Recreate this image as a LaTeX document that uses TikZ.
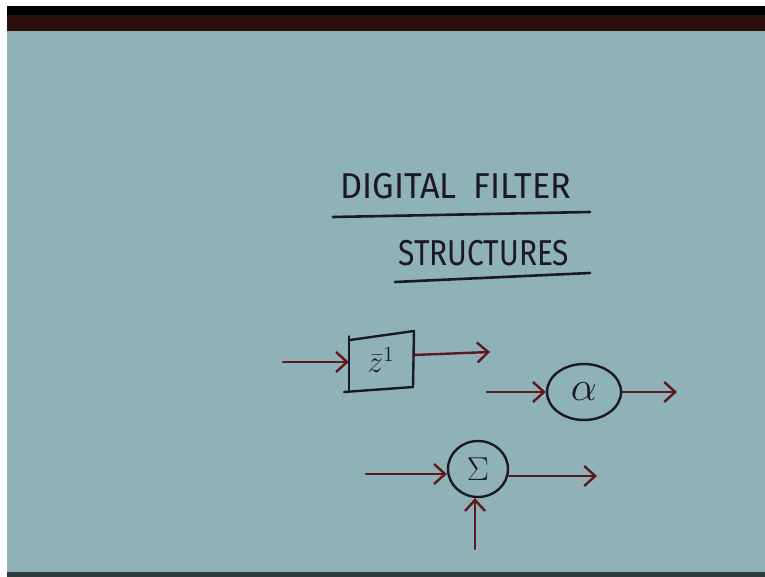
\documentclass[tikz,border=0pt]{standalone}
\usepackage{fontspec}
\setmainfont{Fira Sans}
\usetikzlibrary{arrows.meta,shapes.geometric}
\definecolor{board}{HTML}{8EB2B7}
\definecolor{ink}{HTML}{1C1828}
\definecolor{redink}{HTML}{5E1A20}
\definecolor{topband}{HTML}{2A0F0E}
\definecolor{botband}{HTML}{2C3D3C}
\tikzset{
  wire/.style={draw=redink,line width=2.4pt,line cap=round,
    -{Straight Barb[length=11pt,width=20pt,line width=2.4pt]}},
  blockline/.style={draw=ink,line width=2.4pt,line cap=round,line join=round},
  opcircle/.style={ellipse,draw=ink,line width=2.4pt,inner sep=0pt},
  title/.style={text=ink,font=\fontsize{36}{36}\selectfont,inner sep=0pt},
  underline/.style={draw=ink,line width=2.6pt,line cap=round}
}
\begin{document}
\begin{tikzpicture}[x=1pt,y=-1pt]
\useasboundingbox (0,0) rectangle (765,577);
\fill[white] (0,0) rectangle (765,577);
\fill[board] (7,30) rectangle (765,572);
\fill[black] (7,6) rectangle (765,15);
\fill[topband] (7,15) rectangle (765,31);
\fill[botband] (7,572) rectangle (765,577);

% title
\node[title] (t1) at (456,186) {\scalebox{0.95}[1]{DIGITAL\hspace{0.5em}FILTER}};
\node[title] (t2) at (484,253) {\scalebox{0.83}[1]{STRUCTURES}};
\coordinate (u1a) at (333,217); \coordinate (u1b) at (590,212);
\coordinate (u2a) at (395,282); \coordinate (u2b) at (590,273);
\draw[underline] (u1a) -- (u1b);
\draw[underline] (u2a) -- (u2b);

% delay block
\node[inner sep=0pt,minimum width=64pt,minimum height=54pt,text=ink,
  font=\fontsize{20}{20}\selectfont,text depth=0pt] (z) at (381,362)
  {\raisebox{4pt}{\scalebox{1.5}{$\bar{z}^{1}$}}};
\draw[blockline] (z.south west) ++(0,1) -- ++(0,-54);
\draw[blockline] (350,340) -- (414,331) -- (413,387);
\draw[blockline] (344,392) -- (413,387);
\coordinate (zin) at (283,362);
\coordinate (zout) at (490,352);
\draw[wire] (zin) -- (z.west);
\draw[wire] ([yshift=7pt]z.east) -- (zout);

% multiplier
\node[opcircle,minimum width=74pt,minimum height=56pt,text=ink,
  font=\fontsize{20}{20}\selectfont] (a) at (584,392) {\scalebox{2}{$\alpha$}};
\coordinate (ain) at (487,392);
\coordinate (aout) at (677,392);
\draw[wire] (ain) -- (a.west);
\draw[wire] (a.east) -- (aout);

% adder
\node[opcircle,minimum width=60pt,minimum height=56pt,text=ink,
  font=\fontsize{20}{20}\selectfont] (s) at (478,469) {\scalebox{1.6}{$\Sigma$}};
\coordinate (sin) at (366,474);
\coordinate (sout) at (597,476);
\coordinate (sbot) at (475,549);
\draw[wire] (sin) -- (s.west |- sin);
\draw[wire] (s.east |- sout) -- (sout);
\draw[wire] (sbot) -- (s.south -| sbot);
\end{tikzpicture}
\end{document}
